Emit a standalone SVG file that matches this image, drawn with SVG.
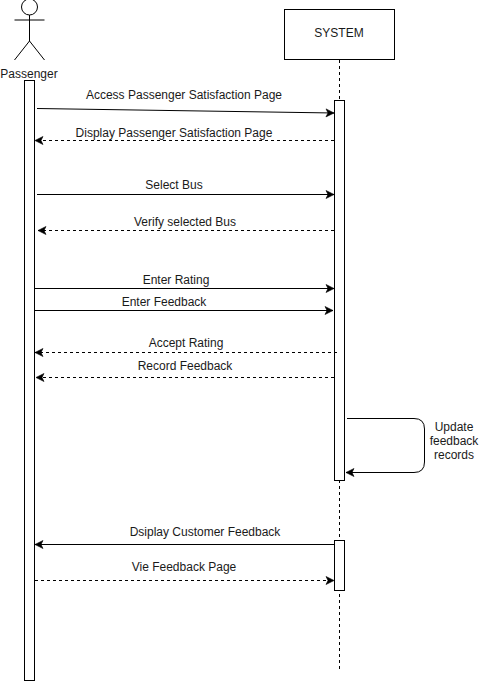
<svg xmlns="http://www.w3.org/2000/svg" width="480" height="681" viewBox="0 0 480 681">
<defs>
<marker id="arrow" markerUnits="userSpaceOnUse" markerWidth="10" markerHeight="10" refX="8" refY="4" orient="auto" overflow="visible"><path d="M0 0L8 4L0 8L2 4Z" fill="#000" stroke="#000" stroke-width="0.6"/></marker>
</defs>
<style>
text{font-family:"Liberation Sans",Arial,sans-serif;font-size:12px;fill:#1a1a1a;text-anchor:middle}
.box{fill:#fff;stroke:#000;stroke-width:1}
.line{fill:none;stroke:#000;stroke-width:1}
.msg{fill:none;stroke:#000;stroke-width:1;marker-end:url(#arrow)}
.ret{stroke-dasharray:3 3}
.life{fill:none;stroke:#000;stroke-width:1;stroke-dasharray:3 3}
</style>
<rect width="480" height="681" fill="#fff"/>
<g id="lifelines">
<path class="life" d="M339.5 60V670"/>
</g>
<g id="passenger">
<circle class="line" cx="29.5" cy="7" r="8"/>
<path class="line" d="M29.5 15V41M14.5 20H44.5M29.5 41L14.5 60M29.5 41L44.5 60"/>
<text x="29" y="78">Passenger</text>
<rect class="box" x="24.5" y="80.5" width="10" height="600"/>
</g>
<g id="system">
<rect class="box" x="284.5" y="9.5" width="110" height="50"/>
<text x="339" y="37">SYSTEM</text>
<rect class="box" x="334.5" y="100.5" width="10" height="380"/>
<rect class="box" x="334.5" y="540.5" width="10" height="50"/>
</g>
<g id="connectors">
<path class="msg" d="M37 108.500L334 113"/>
<path class="msg ret" d="M334 140.500H35"/>
<path class="msg" d="M37 194.500H334"/>
<path class="msg ret" d="M334 230.500H38"/>
<path class="msg" d="M35 288.500H334"/>
<path class="msg" d="M35 310.500H333"/>
<path class="msg ret" d="M337 352.500H35"/>
<path class="msg ret" d="M334 377.500H36"/>
<path class="msg" d="M347 418.500H414Q424.500 418.500 424.500 429V462Q424.500 472.500 414 472.500H346"/>
<path class="msg" d="M334 544.500H35"/>
<path class="msg ret" d="M35 580.500H334"/>
</g>
<g id="labels">
<text x="184" y="99">Access Passenger Satisfaction Page</text>
<text x="174" y="137">Display Passenger Satisfaction Page</text>
<text x="174" y="189">Select Bus</text>
<text x="185" y="226">Verify selected Bus</text>
<text x="176" y="284">Enter Rating</text>
<text x="164" y="306">Enter Feedback</text>
<text x="186" y="347">Accept Rating</text>
<text x="185" y="370">Record Feedback</text>
<text x="454" y="431">Update</text>
<text x="454" y="445">feedback</text>
<text x="454" y="459">records</text>
<text x="205" y="536">Dsiplay Customer Feedback</text>
<text x="184" y="571">Vie Feedback Page</text>
</g>
</svg>
